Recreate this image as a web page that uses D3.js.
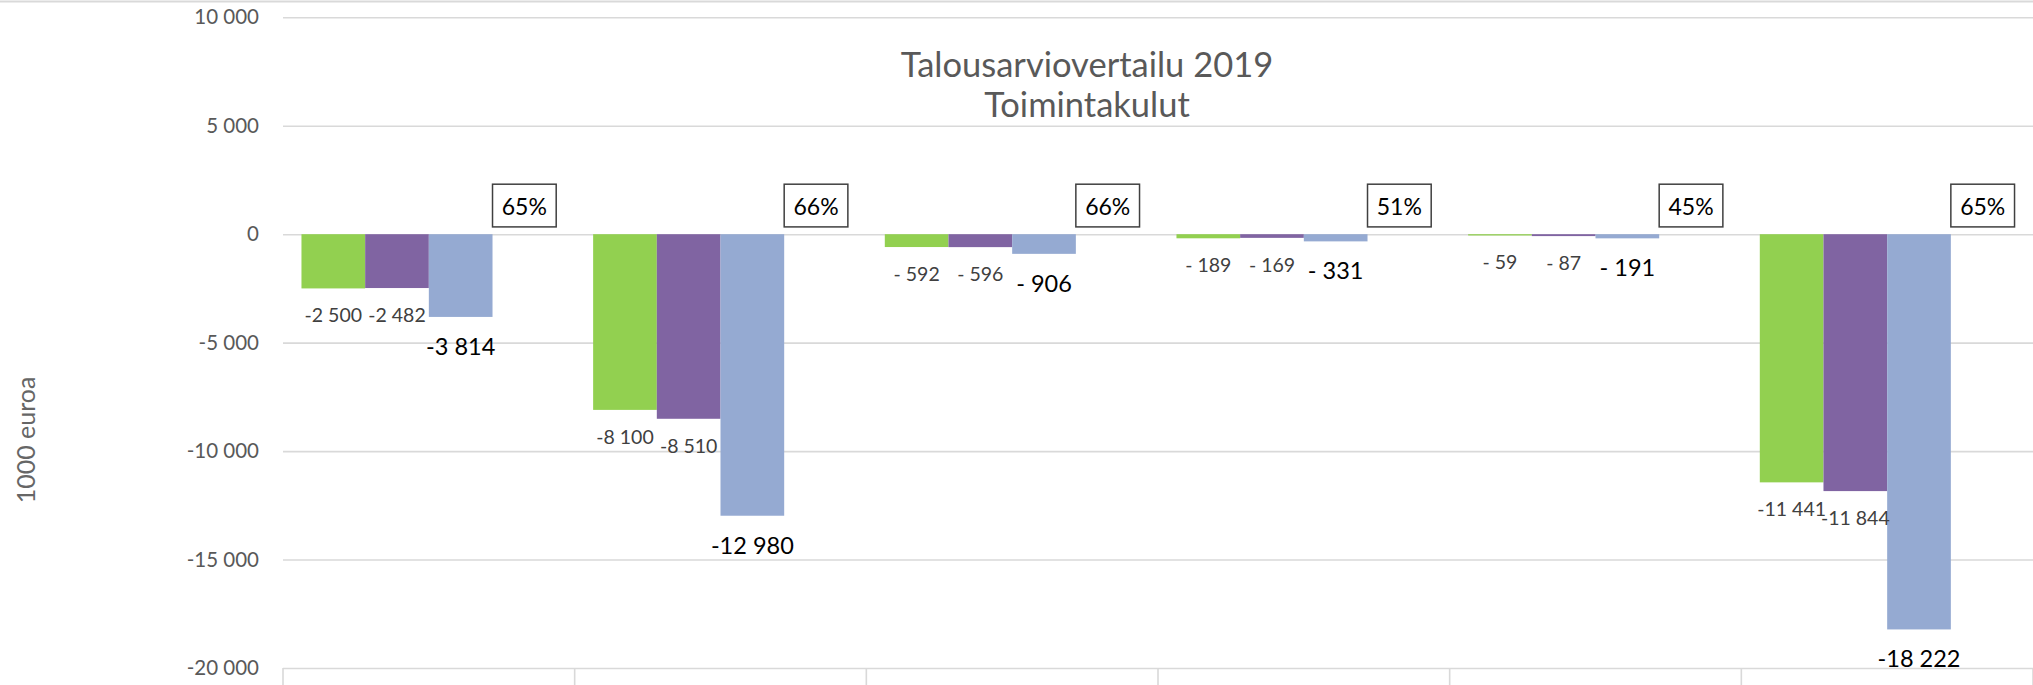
<!DOCTYPE html>
<html>
<head>
  <meta charset="utf-8">
  <title>Talousarviovertailu 2019</title>
  <script src="https://cdnjs.cloudflare.com/ajax/libs/d3/7.8.5/d3.min.js"></script>
  <style>
    body { margin: 0; background: #fff; overflow: hidden; }
    text { font-family: Lato, "Open Sans", sans-serif; }
  </style>
</head>
<body>
<svg id="chart" width="2033" height="685"></svg>
<script>
  // data
  var categories = ["1", "2", "3", "4", "5", "6"];
  var seriesA = [-2500, -8100, -592, -189, -59, -11441];
  var seriesB = [-2482, -8510, -596, -169, -87, -11844];
  var seriesC = [-3814, -12980, -906, -331, -191, -18222];
  var shares = [65, 66, 66, 51, 45, 65];
  var tickValues = [-20000, -15000, -10000, -5000, 0, 5000, 10000];
  var tickLabels = ["-20 000", "-15 000", "-10 000", "-5 000", "0", "5 000", "10 000"];
  var colors = ["#92d050", "#8064a2", "#95aad2"];

  var W = 2033, H = 685;
  var plotLeft = 283, plotRight = 2033, plotTop = 17.3, plotBottom = 668;

  var svg = d3.select("#chart");

  var x0 = d3.scaleBand().domain(categories).range([plotLeft, plotRight]).padding(0);
  var x1 = d3.scaleBand().domain([0, 1, 2, 3]).range([0, x0.bandwidth()])
              .paddingInner(0).paddingOuter(0.29);
  var y = d3.scaleLinear().domain([-20000, 10000]).range([plotBottom, plotTop]);

  // chart border (top edge only is visible)
  svg.append("line").attr("x1", 0).attr("x2", W).attr("y1", 1.5).attr("y2", 1.5)
     .attr("stroke", "#d9d9d9").attr("stroke-width", 2);

  // gridlines + y labels
  var yAxis = d3.axisLeft(y).tickValues(tickValues)
      .tickSize(-(plotRight - plotLeft)).tickPadding(24)
      .tickFormat(function(d, i) { return tickLabels[i]; });
  var gy = svg.append("g").attr("transform", "translate(" + plotLeft + ",0)").call(yAxis);
  gy.select(".domain").remove();
  gy.selectAll(".tick line").attr("stroke", "#d9d9d9").attr("stroke-width", 1.6);
  gy.selectAll(".tick text").attr("fill", "#595959").style("font-size", "20.5px")
    .style("font-family", "Lato, sans-serif");

  // category separators at bottom
  var bounds = categories.map(function(c) { return x0(c); }).concat([plotRight]);
  svg.selectAll(".sep").data(bounds).enter().append("line")
     .attr("class", "sep")
     .attr("x1", function(d) { return d; }).attr("x2", function(d) { return d; })
     .attr("y1", plotBottom).attr("y2", H)
     .attr("stroke", "#d9d9d9").attr("stroke-width", 1.6);

  // bars
  var allSeries = [seriesA, seriesB, seriesC];
  allSeries.forEach(function(vals, s) {
    svg.selectAll(".bar" + s).data(vals).enter().append("rect")
       .attr("class", "bar" + s)
       .attr("x", function(d, i) { return x0(categories[i]) + x1(s); })
       .attr("width", x1.bandwidth())
       .attr("y", function(d) { return y(Math.max(0, d)); })
       .attr("height", function(d) { return Math.abs(y(d) - y(0)); })
       .attr("fill", colors[s]);
  });

  function fmt(v) {
    var a = Math.abs(v);
    if (a < 1000) return "- " + a;
    return "-" + Math.floor(a / 1000) + " " + String(a % 1000).padStart(3, "0");
  }

  // value labels
  allSeries.forEach(function(vals, s) {
    var big = s == 2;
    svg.selectAll(".lab" + s).data(vals).enter().append("text")
       .attr("x", function(d, i) { return x0(categories[i]) + x1(s) + x1.bandwidth() / 2; })
       .attr("y", function(d) { return y(d) + (big ? 38 : 34); })
       .attr("text-anchor", "middle")
       .attr("fill", big ? "#000" : "#404040")
       .style("font-size", big ? "23.5px" : "19.5px")
       .text(fmt);
  });

  // share boxes (4th slot)
  var boxes = svg.selectAll(".share").data(shares).enter().append("g").attr("class", "share");
  boxes.append("rect")
       .attr("x", function(d, i) { return x0(categories[i]) + x1(3); })
       .attr("y", y(0) - 50)
       .attr("width", x1.bandwidth())
       .attr("height", 42.7)
       .attr("fill", "#fff").attr("stroke", "#404040").attr("stroke-width", 1.5);
  boxes.append("text")
       .attr("x", function(d, i) { return x0(categories[i]) + x1(3) + x1.bandwidth() / 2; })
       .attr("y", y(0) - 19)
       .attr("text-anchor", "middle")
       .attr("fill", "#000")
       .style("font-size", "23px")
       .text(function(d) { return d + "%"; });

  // title
  var title = svg.append("text").attr("text-anchor", "middle").attr("fill", "#595959")
      .style("font-size", "34.5px");
  title.append("tspan").attr("x", 1087).attr("y", 76.5).text("Talousarviovertailu 2019");
  title.append("tspan").attr("x", 1087).attr("y", 117).text("Toimintakulut");

  // y axis title
  svg.append("text")
     .attr("transform", "translate(35,440) rotate(-90)")
     .attr("text-anchor", "middle")
     .attr("fill", "#666")
     .style("font-size", "25px")
     .text("1000 euroa");
</script>
</body>
</html>
